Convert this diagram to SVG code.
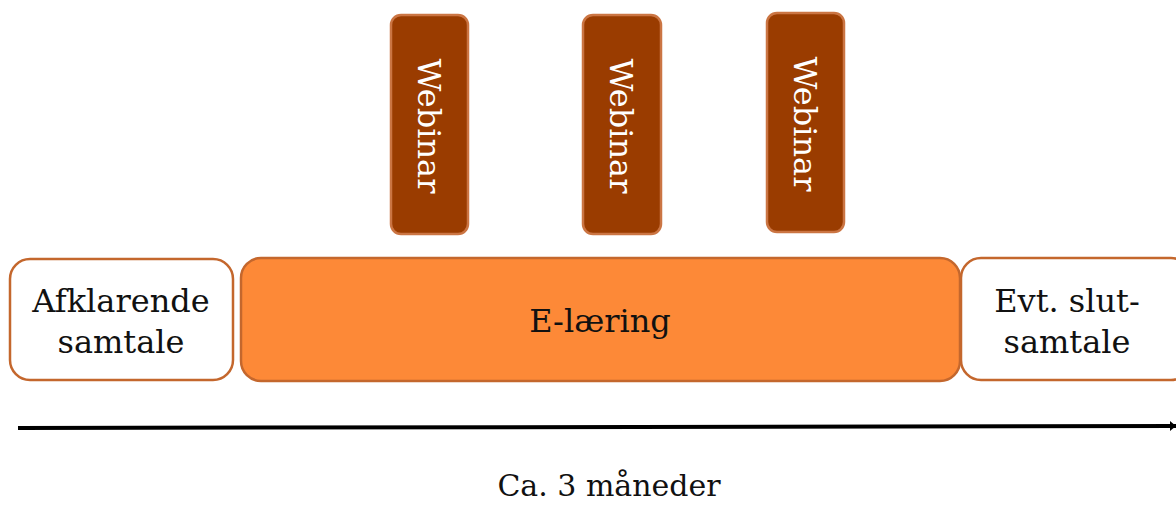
<svg xmlns="http://www.w3.org/2000/svg" width="1176" height="506" viewBox="0 0 1176 506">
<defs>
<style>
.t{font-family:"DejaVu Serif","Liberation Serif",serif;font-size:32px;fill:#111;text-anchor:middle}
.l{font-family:"DejaVu Serif","Liberation Serif",serif;font-size:30px;fill:#111;text-anchor:middle}
.w{font-family:"DejaVu Serif","Liberation Serif",serif;font-size:32px;fill:#fff;text-anchor:middle}
.white{fill:#fff;stroke:#C4672D;stroke-width:2.5}
.orange{fill:#FD8937;stroke:#C4672D;stroke-width:2.5}
.web{fill:#9A3C00;stroke:#CB7543;stroke-width:2.5}
</style>
<marker id="ah" markerWidth="6" markerHeight="10" refX="6" refY="5" orient="auto" markerUnits="userSpaceOnUse">
<path d="M0,0 L6,5 L0,10 z" fill="#000"/>
</marker>
</defs>
<g id="connectors">
<line x1="18" y1="428" x2="1176" y2="426" stroke="#000" stroke-width="4" marker-end="url(#ah)"/>
</g>
<g id="afklarende">
<rect class="white" x="10" y="259" width="223" height="121" rx="20"/>
<text class="t" x="121" y="312">Afklarende</text>
<text class="t" x="121" y="353">samtale</text>
</g>
<g id="elaering">
<rect class="orange" x="241" y="258" width="719" height="123" rx="20"/>
<text class="t" x="600" y="332">E-læring</text>
</g>
<g id="slutsamtale">
<rect class="white" x="961" y="258" width="230" height="122" rx="20"/>
<text class="t" x="1067" y="312">Evt. slut-</text>
<text class="t" x="1067" y="353">samtale</text>
</g>
<g id="webinar1">
<rect class="web" x="391" y="15" width="77" height="219" rx="10"/>
<text class="w" transform="translate(418,126) rotate(90)">Webinar</text>
</g>
<g id="webinar2">
<rect class="web" x="583" y="15" width="78" height="219" rx="10"/>
<text class="w" transform="translate(610,126) rotate(90)">Webinar</text>
</g>
<g id="webinar3">
<rect class="web" x="767" y="13" width="77" height="219" rx="10"/>
<text class="w" transform="translate(794,124) rotate(90)">Webinar</text>
</g>
<g id="label">
<text class="l" x="609" y="496">Ca. 3 måneder</text>
</g>
</svg>
